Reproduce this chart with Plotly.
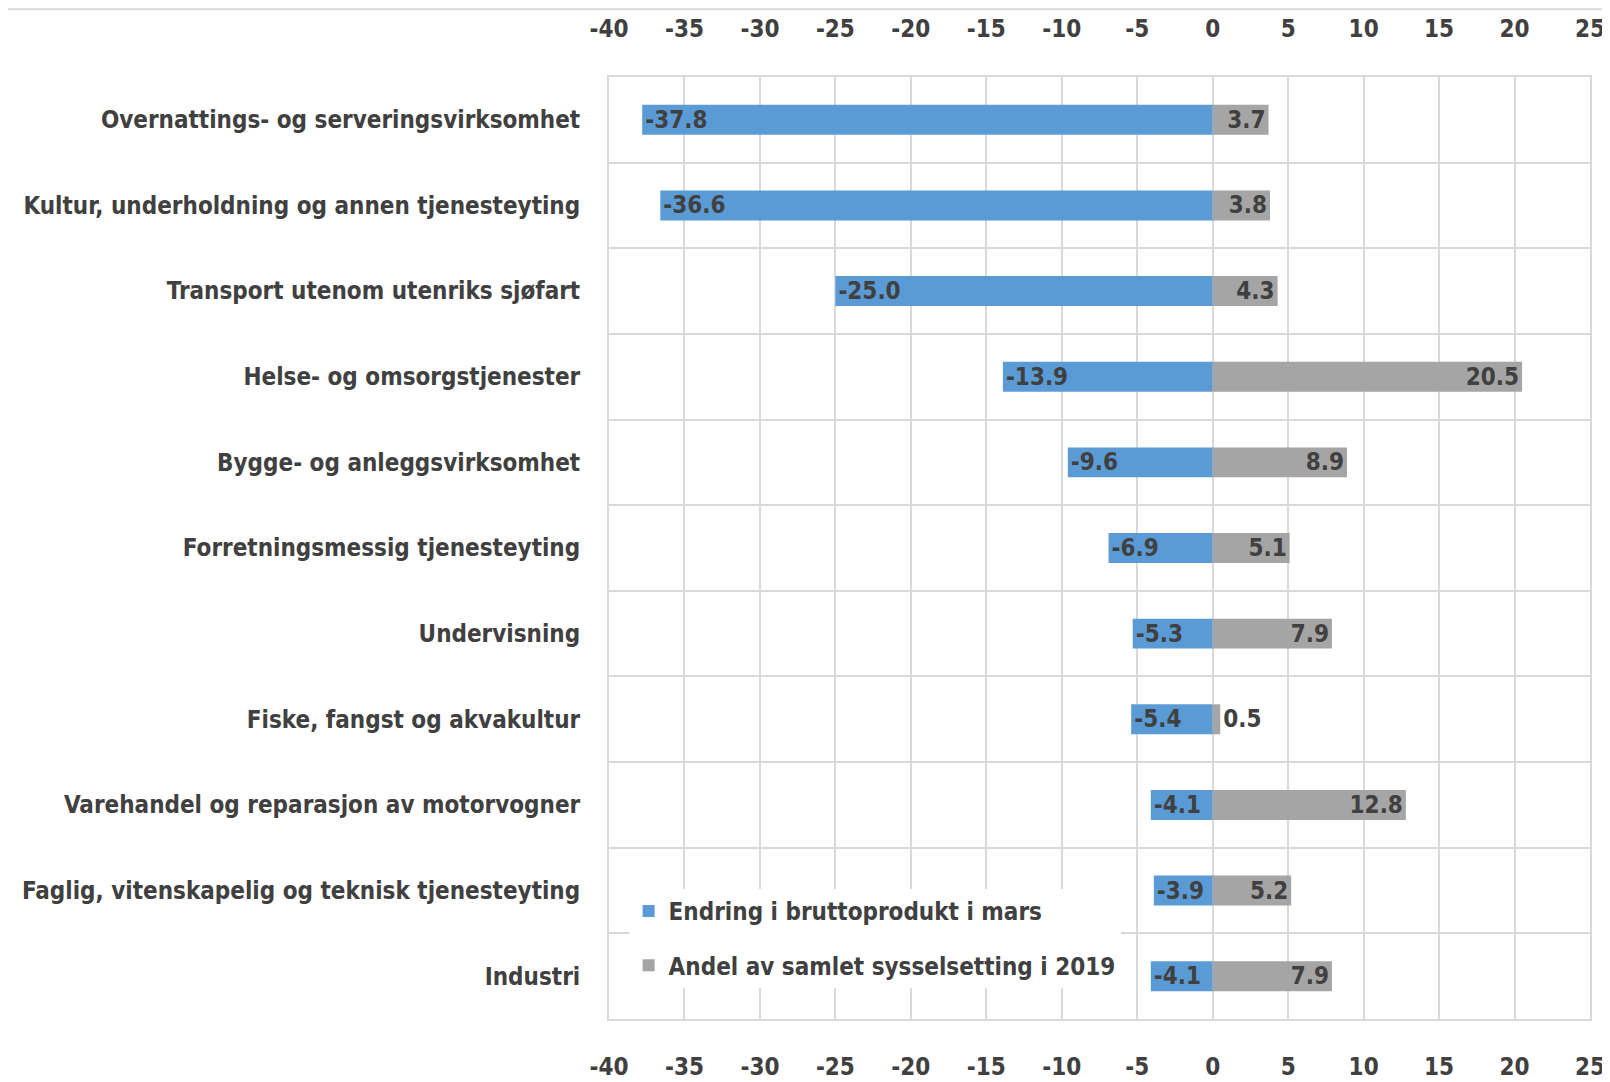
import plotly.graph_objects as go

# data
categories = [
    "Overnattings- og serveringsvirksomhet",
    "Kultur, underholdning og annen tjenesteyting",
    "Transport utenom utenriks sjøfart",
    "Helse- og omsorgstjenester",
    "Bygge- og anleggsvirksomhet",
    "Forretningsmessig tjenesteyting",
    "Undervisning",
    "Fiske, fangst og akvakultur",
    "Varehandel og reparasjon av motorvogner",
    "Faglig, vitenskapelig og teknisk tjenesteyting",
    "Industri",
]
endring = [-37.8, -36.6, -25.0, -13.9, -9.6, -6.9, -5.3, -5.4, -4.1, -3.9, -4.1]
andel = [3.7, 3.8, 4.3, 20.5, 8.9, 5.1, 7.9, 0.5, 12.8, 5.2, 7.9]
x_ticks = list(range(-40, 30, 5))
x_ticktext = [str(t) for t in x_ticks]

BLUE = "#5B9BD5"
GREY = "#A5A5A5"
TXT = "#404040"
GRID = "#D9D9D9"
FONT = "DejaVu Sans Condensed, Liberation Sans Narrow, sans-serif"
FS = 24

fig = go.Figure()

fig.add_trace(go.Bar(
    y=categories, x=endring, orientation="h",
    name="Endring i bruttoprodukt i mars",
    marker=dict(color=BLUE, line=dict(width=0)),
    width=0.35,
    text=[f"{v:.1f}" for v in endring],
    textposition="inside", insidetextanchor="end", constraintext="none",
    textfont=dict(color=TXT, size=FS, family=FONT, weight="bold"),
    legendgroup="a",
))

fig.add_trace(go.Bar(
    y=categories, x=andel, orientation="h",
    name="Andel av samlet sysselsetting i 2019",
    marker=dict(color=GREY, line=dict(width=0)),
    width=0.35,
    text=[f"{v:.1f}" for v in andel],
    textposition=["outside" if v < 1 else "inside" for v in andel],
    insidetextanchor="end", constraintext="none", cliponaxis=False,
    textfont=dict(color=TXT, size=FS, family=FONT, weight="bold"),
    legendgroup="b",
))

# invisible trace to carry the top axis
fig.add_trace(go.Scatter(
    x=[x_ticks[0], x_ticks[-1]], y=[categories[0], categories[0]],
    xaxis="x2", mode="markers", marker=dict(opacity=0),
    showlegend=False, hoverinfo="skip",
))

axis_common = dict(
    range=[-40, 25], tickvals=x_ticks, ticktext=x_ticktext,
    showgrid=True, gridcolor=GRID, gridwidth=2, zeroline=False,
    showline=True, linecolor=GRID, linewidth=2, mirror=True,
    ticks="", automargin=False,
    tickfont=dict(size=FS, color=TXT, family=FONT, weight="bold"),
)

# the page body adds an 8px margin, so the figure is 8px smaller each way
fig.update_layout(
    barmode="overlay",
    width=1602, height=1074,
    paper_bgcolor="white", plot_bgcolor="white",
    font=dict(family=FONT, color=TXT),
    margin=dict(l=601, r=20, t=69, b=63),
    xaxis=dict(**axis_common, side="bottom", ticklabelstandoff=25),
    xaxis2=dict(**axis_common, side="top", overlaying="x", matches="x",
                ticklabelstandoff=28),
    yaxis=dict(
        categoryorder="array", categoryarray=categories[::-1],
        tickson="boundaries", showgrid=True, gridcolor=GRID, gridwidth=2,
        showline=True, linecolor=GRID, linewidth=2, mirror=True,
        ticks="", ticklabelstandoff=22, automargin=False,
        tickfont=dict(size=FS, color=TXT, family=FONT, weight="bold"),
        range=[-0.5, len(categories) - 0.5],
    ),
    legend=dict(
        x=0.02, y=0.138, xanchor="left", yanchor="top",
        bgcolor="white",
        font=dict(size=FS, color=TXT, family=FONT, weight="bold"),
        traceorder="grouped", tracegroupgap=20,
        itemwidth=30,
    ),
    shapes=[dict(
        type="line", xref="paper", yref="paper", x0=-0.62, x1=1.03,
        y0=1.072, y1=1.072, line=dict(color=GRID, width=2),
    )],
)

fig.write_html("out.html")
